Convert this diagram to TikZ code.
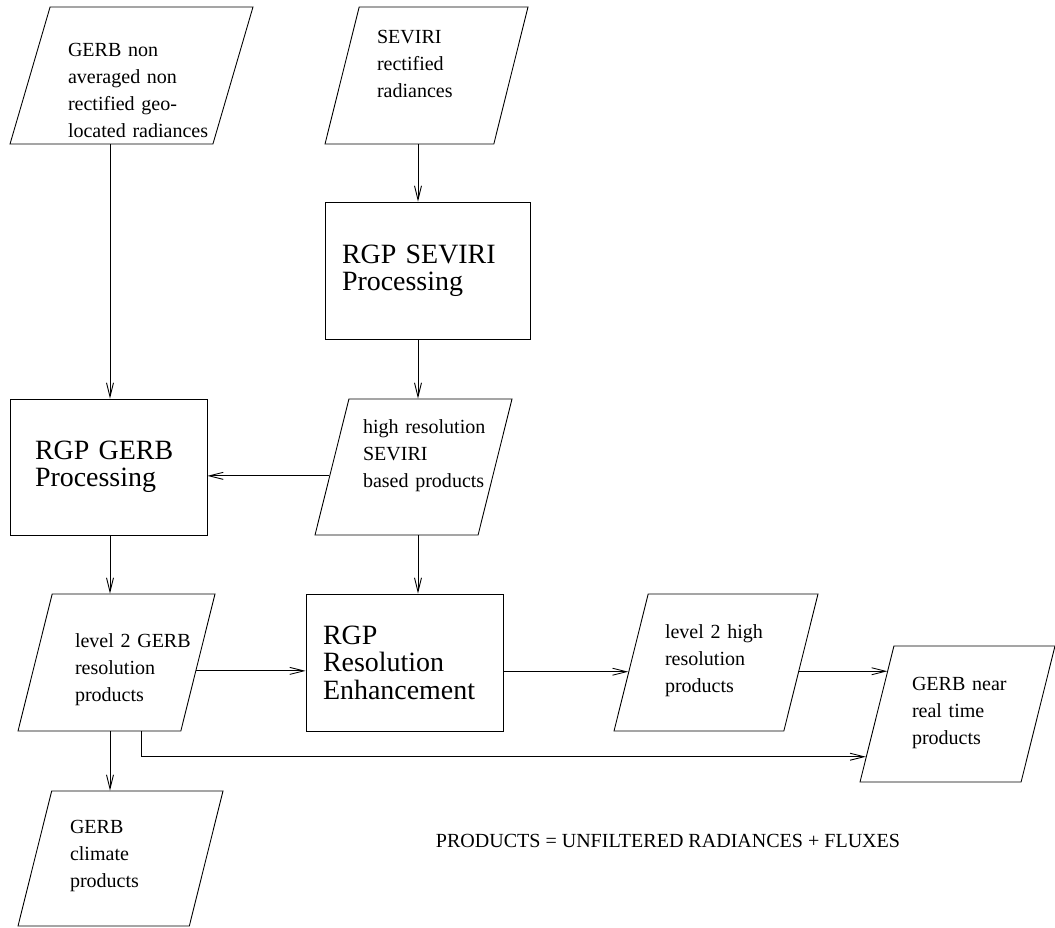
\documentclass[tikz,border=0pt]{standalone}
\usepackage{fontspec}
\setmainfont{Liberation Serif}
\usetikzlibrary{shapes.geometric,%
	arrows.meta,%
	positioning%
}

\newcommand{\boxfont}{\fontsize{11.4pt}{15.5pt}\selectfont\hyphenpenalty=10000}
\newcommand{\procfont}{\fontsize{15.9pt}{15.6pt}\selectfont}

\begin{document}
\begin{tikzpicture}[y=-0.02cm, x=0.02cm, line width=0.5pt,
	>={Straight Barb[length=0.28cm, width=0.14cm]}]
	\useasboundingbox (0,0) rectangle (1055,927);
	\begin{scope}[every node/.style={trapezium, draw, trapezium left angle=76,
		trapezium right angle=104, trapezium stretches body,
		align=left, font=\boxfont, inner sep=0pt}]
	\node[trapezium left angle=73.7, trapezium right angle=106.3, minimum width=4.86cm,
		text width=2.54cm, text height=0.98cm, text depth=1.76cm] (gin) at (131.5,75.5)
		{GERB non\\averaged non\\rectified geo-\\\mbox{located radiances}};
	\node[minimum width=4.06cm, text width=1.98cm, text height=0.72cm, text depth=2.02cm]
		(sevr) at (426.5,75.5) {SEVIRI\\rectified\\radiances};
	\node[minimum width=3.94cm, text width=2.02cm, text height=0.68cm, text depth=2.04cm]
		(hrs) at (413.5,467) {\mbox{high resolution}\\SEVIRI\\\mbox{based products}};
	\node[minimum width=3.94cm, text width=1.66cm, text height=1.06cm, text depth=1.68cm]
		(l2g) at (116.5,662.5) {\mbox{level 2 GERB}\\resolution\\products};
	\node[minimum width=4.08cm, text width=2.04cm, text height=0.88cm, text depth=1.86cm]
		(l2h) at (716,662.5) {level 2 high\\resolution\\products};
	\node[minimum width=3.9cm, text width=1.82cm, text height=0.88cm, text depth=1.84cm]
		(nrt) at (957.5,714) {\mbox{GERB near}\\real time\\products};
	\node[minimum width=4.1cm, text width=2.02cm, text height=0.84cm, text depth=1.86cm]
		(clim) at (120.5,858.5) {GERB\\climate\\products};
	\end{scope}
	
	\begin{scope}[every node/.style={rectangle, draw, align=left, font=\procfont, inner sep=0pt}]
	\node[minimum width=4.1cm, minimum height=2.74cm, text width=3.42cm] (sevp) at (427.5,270.5)
		{RGP SEVIRI\\Processing};
	\node[minimum width=3.94cm, minimum height=2.72cm, text width=2.94cm] (gerbp) at (108.5,467)
		{RGP GERB\\Processing};
	\node[minimum width=3.94cm, minimum height=2.74cm, text width=3.26cm] (re) at (404.5,662.5)
		{RGP\\Resolution\\Enhancement};
	\end{scope}
	
	\node[font=\boxfont] (note) at (668,841) {PRODUCTS = UNFILTERED RADIANCES + FLUXES};
	
	% columns of the vertical arrows
	\coordinate (lcol) at (110,0);
	\coordinate (rcol) at (418,0);
	
	\begin{scope}[every path/.style={draw, ->}]
	\path (gin.south -| lcol) -- (gerbp.north -| lcol);
	\path (sevr.south -| rcol) -- (sevp.north -| rcol);
	\path (sevp.south -| rcol) -- (hrs.north -| rcol);
	\path (hrs.south -| rcol) -- (re.north -| rcol);
	\path (gerbp.south -| lcol) -- (l2g.north -| lcol);
	\path (l2g.south -| lcol) -- (clim.north -| lcol);
	\path (hrs.186) -- (hrs.186 -| gerbp.east);
	\path (l2g.-6) -- (l2g.-6 -| re.west);
	\path (l2h.186 -| re.east) -- (l2h.186);
	\path (l2h.-6) -- (l2h.-6 -| nrt.148);
	\path (l2g.-70) |- (nrt.205);
	\end{scope}
\end{tikzpicture}
\end{document}
